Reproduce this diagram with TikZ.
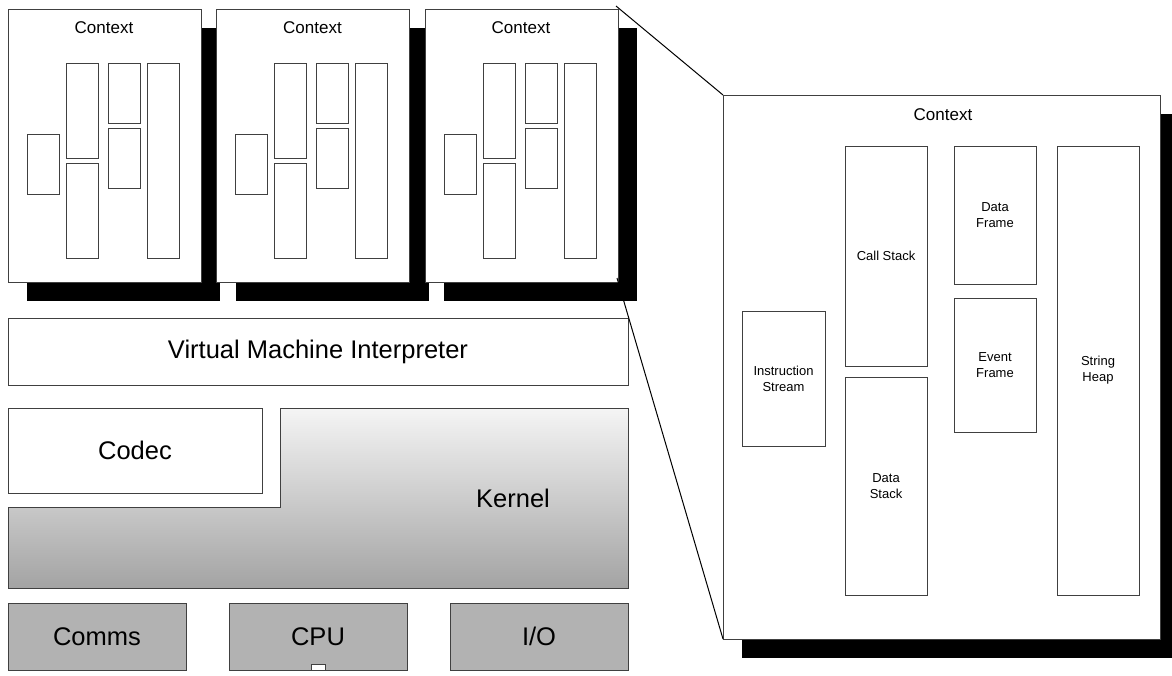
\documentclass[tikz,border=0pt]{standalone}
\usepackage{fontspec}
\setmainfont{Liberation Sans}
\begin{document}
\begin{tikzpicture}[x=1pt,y=-1pt]
\tikzset{
  box/.style={draw=black!75, line width=0.9pt, fill=white, anchor=north west, inner sep=0pt, outer sep=0pt},
  shadowbox/.style={fill=black, draw=none, anchor=north west, inner sep=0pt, outer sep=0pt},
  bigtext/.style={font=\fontsize{25.5}{30}\selectfont},
  ctxtext/.style={font=\fontsize{17}{20}\selectfont},
  lbl/.style={font=\fontsize{13}{16}\selectfont, align=center},
  hwbox/.style={box, fill=black!30, bigtext},
  zoomline/.style={draw=black, line width=1pt},
}
\useasboundingbox (0,0) rectangle (1172,675);

% small contexts: shadows first
\foreach \i/\x in {1/8,2/216.5,3/425}{
  \node[shadowbox, minimum width=193, minimum height=273] (sh\i) at ({\x+19},28) {};
}
\foreach \i/\x in {1/8,2/216.5,3/425}{
  \node[box, minimum width=193, minimum height=273] (c\i) at (\x,9) {};
  \node[ctxtext] (c\i-t) at ({\x+96},28) {Context};
  \node[box, minimum width=32, minimum height=60] (c\i-a) at ({\x+19},134) {};
  \node[box, minimum width=32, minimum height=95] (c\i-b) at ({\x+58},63) {};
  \node[box, minimum width=32, minimum height=95] (c\i-c) at ({\x+58},163) {};
  \node[box, minimum width=32, minimum height=60] (c\i-d) at ({\x+100},63) {};
  \node[box, minimum width=32, minimum height=60] (c\i-e) at ({\x+100},128) {};
  \node[box, minimum width=32, minimum height=195] (c\i-f) at ({\x+139},63) {};
}

% virtual machine
\node[box, bigtext, minimum width=620, minimum height=67] (vm) at (8,318) {Virtual Machine Interpreter};

% codec and kernel
\node[box, bigtext, minimum width=254, minimum height=85] (codec) at (8,408) {Codec};
\shade[top color=black!4, bottom color=black!36, draw=black!75, line width=0.9pt]
  (280,408) -- (628,408) -- (628,588) -- (8,588) -- (8,507) -- (280,507) -- cycle;
\node[bigtext] (kernel) at (513,498) {Kernel};

% hardware
\node[hwbox, minimum width=178, minimum height=67] (comms) at (8,603) {Comms};
\node[hwbox, minimum width=178, minimum height=67] (cpu) at (229,603) {CPU};
\node[hwbox, minimum width=178, minimum height=67] (io) at (450,603) {I/O};
\node[box, minimum width=14, minimum height=6] (cpuled) at (311,664) {};

% big context panel
\node[shadowbox, minimum width=437, minimum height=544] (bpsh) at (742,114) {};
\node[box, minimum width=437, minimum height=544] (bp) at (723,95) {};
\node[ctxtext] (bp-t) at (943,115) {Context};
\node[box, lbl, minimum width=83, minimum height=135] (is) at (742,311) {Instruction\\Stream};
\node[box, lbl, minimum width=82, minimum height=220] (cs) at (845,146) {Call Stack};
\node[box, lbl, minimum width=82, minimum height=218] (ds) at (845,377) {Data\\Stack};
\node[box, lbl, minimum width=82, minimum height=138] (df) at (954,146) {Data\\Frame};
\node[box, lbl, minimum width=82, minimum height=134] (ef) at (954,298) {Event\\Frame};
\node[box, lbl, minimum width=82, minimum height=449] (shp) at (1057,146) {String\\Heap};

% zoom lines
\coordinate (zt) at (616,6);
\coordinate (zb) at (617,278);
\draw[zoomline] (zt) -- (bp.north west);
\draw[zoomline] (zb) -- (bp.south west);
\end{tikzpicture}
\end{document}
